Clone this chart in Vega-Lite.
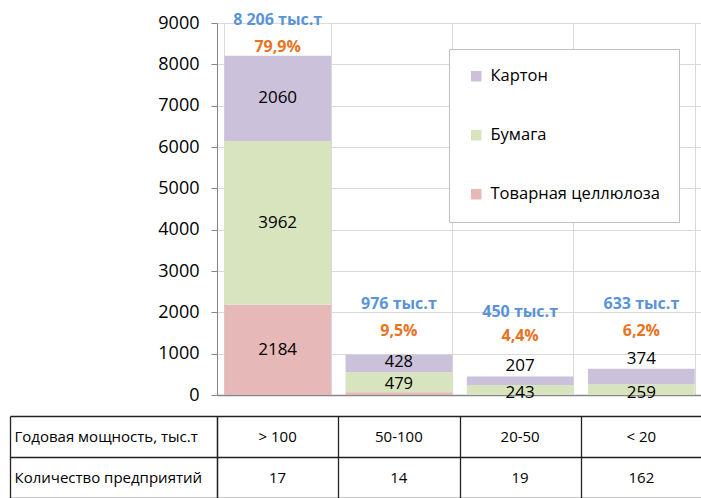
{
  "$schema": "https://vega.github.io/schema/vega-lite/v6.json",
  "padding": {"left": 9, "top": 11, "right": 0, "bottom": 0},
  "spacing": 5,
  "config": {
    "font": "Open Sans",
    "view": {"stroke": null},
    "text": {"font": "Open Sans"}
  },
  "datasets": {
    "bars": [
      {"cap": "> 100", "type": "Товарная целлюлоза", "ord": 1, "value": 2184},
      {"cap": "> 100", "type": "Бумага", "ord": 2, "value": 3962},
      {"cap": "> 100", "type": "Картон", "ord": 3, "value": 2060},
      {"cap": "50-100", "type": "Товарная целлюлоза", "ord": 1, "value": 69},
      {"cap": "50-100", "type": "Бумага", "ord": 2, "value": 479},
      {"cap": "50-100", "type": "Картон", "ord": 3, "value": 428},
      {"cap": "20-50", "type": "Товарная целлюлоза", "ord": 1, "value": 0},
      {"cap": "20-50", "type": "Бумага", "ord": 2, "value": 243},
      {"cap": "20-50", "type": "Картон", "ord": 3, "value": 207},
      {"cap": "< 20", "type": "Товарная целлюлоза", "ord": 1, "value": 0},
      {"cap": "< 20", "type": "Бумага", "ord": 2, "value": 259},
      {"cap": "< 20", "type": "Картон", "ord": 3, "value": 374}
    ],
    "totals": [
      {"cap": "> 100", "total": 8206, "name": "8 206 тыс.т", "share": "79,9%"},
      {"cap": "50-100", "total": 976, "name": "976 тыс.т", "share": "9,5%"},
      {"cap": "20-50", "total": 450, "name": "450 тыс.т", "share": "4,4%"},
      {"cap": "< 20", "total": 633, "name": "633 тыс.т", "share": "6,2%"}
    ],
    "table": [
      {"row": "Годовая мощность, тыс.т", "cap": "> 100", "label": "> 100"},
      {"row": "Годовая мощность, тыс.т", "cap": "50-100", "label": "50-100"},
      {"row": "Годовая мощность, тыс.т", "cap": "20-50", "label": "20-50"},
      {"row": "Годовая мощность, тыс.т", "cap": "< 20", "label": "< 20"},
      {"row": "Количество предприятий", "cap": "> 100", "label": "17"},
      {"row": "Количество предприятий", "cap": "50-100", "label": "14"},
      {"row": "Количество предприятий", "cap": "20-50", "label": "19"},
      {"row": "Количество предприятий", "cap": "< 20", "label": "162"}
    ]
  },
  "vconcat": [
    {
      "width": 485,
      "height": 372,
      "layer": [
        {
          "data": {"name": "bars"},
          "transform": [
            {"stack": "value", "groupby": ["cap"], "sort": [{"field": "ord", "order": "ascending"}], "as": ["v0", "v1"]}
          ],
          "mark": {"type": "bar"},
          "encoding": {
            "x": {
              "field": "cap", "type": "nominal",
              "sort": ["> 100", "50-100", "20-50", "< 20"],
              "scale": {"paddingInner": 0.12, "paddingOuter": 0.06},
              "axis": {"title": null, "labels": false, "ticks": false, "domain": true, "domainColor": "#868686", "domainWidth": 1.5, "grid": true, "gridColor": "#d9d9d9", "tickBand": "extent"}
            },
            "y": {
              "field": "v0", "type": "quantitative",
              "scale": {"domain": [0, 9000], "nice": false},
              "axis": {"title": null, "format": "d", "values": [0, 1000, 2000, 3000, 4000, 5000, 6000, 7000, 8000, 9000], "grid": true, "gridColor": "#d9d9d9", "domain": true, "domainColor": "#868686", "tickColor": "#868686", "tickSize": 6, "labelPadding": 12, "labelFontSize": 18, "labelColor": "#000", "labelFont": "Open Sans"}
            },
            "y2": {"field": "v1"},
            "color": {
              "field": "type", "type": "nominal",
              "scale": {"domain": ["Картон", "Бумага", "Товарная целлюлоза"], "range": ["#ccc1da", "#d7e4bd", "#e6b9b8"]},
              "legend": {"title": null, "orient": "none", "legendX": 232, "legendY": 26, "padding": 19, "rowPadding": 42, "symbolType": "square", "symbolSize": 110, "symbolStrokeWidth": 0, "labelFontSize": 16.5, "labelFont": "Open Sans", "labelColor": "#000", "labelOffset": 6, "labelLimit": 0, "strokeColor": "#c0c0c0", "fillColor": "#ffffff"}
            }
          }
        },
        {
          "data": {"name": "bars"},
          "transform": [
            {"stack": "value", "groupby": ["cap"], "sort": [{"field": "ord", "order": "ascending"}], "as": ["v0", "v1"]},
            {"calculate": "(datum.v0 + datum.v1) / 2", "as": "mid"},
            {"filter": "datum.value > 100 && datum.cap == '> 100'"}
          ],
          "mark": {"type": "text", "fontSize": 17, "color": "#000"},
          "encoding": {
            "x": {"field": "cap", "type": "nominal", "sort": ["> 100", "50-100", "20-50", "< 20"]},
            "y": {"field": "mid", "type": "quantitative"},
            "text": {"field": "value", "type": "quantitative"}
          }
        },
        {
          "data": {"name": "bars"},
          "transform": [
            {"stack": "value", "groupby": ["cap"], "sort": [{"field": "ord", "order": "ascending"}], "as": ["v0", "v1"]},
            {"calculate": "(datum.v0 + datum.v1) / 2", "as": "mid"},
            {"filter": "datum.cap == '50-100' && datum.type == 'Картон'"}
          ],
          "mark": {"type": "text", "fontSize": 16.5, "color": "#000", "dy": -2},
          "encoding": {
            "x": {"field": "cap", "type": "nominal", "sort": ["> 100", "50-100", "20-50", "< 20"]},
            "y": {"field": "mid", "type": "quantitative"},
            "text": {"field": "value", "type": "quantitative"}
          }
        },
        {
          "data": {"name": "bars"},
          "transform": [
            {"stack": "value", "groupby": ["cap"], "sort": [{"field": "ord", "order": "ascending"}], "as": ["v0", "v1"]},
            {"calculate": "(datum.v0 + datum.v1) / 2", "as": "mid"},
            {"filter": "datum.cap == '50-100' && datum.type == 'Бумага'"}
          ],
          "mark": {"type": "text", "fontSize": 16.5, "color": "#000", "dy": 2},
          "encoding": {
            "x": {"field": "cap", "type": "nominal", "sort": ["> 100", "50-100", "20-50", "< 20"]},
            "y": {"field": "mid", "type": "quantitative"},
            "text": {"field": "value", "type": "quantitative"}
          }
        },
        {
          "data": {"name": "bars"},
          "transform": [
            {"stack": "value", "groupby": ["cap"], "sort": [{"field": "ord", "order": "ascending"}], "as": ["v0", "v1"]},
            {"filter": "datum.type == 'Картон' && (datum.cap == '20-50' || datum.cap == '< 20')"}
          ],
          "mark": {"type": "text", "fontSize": 17, "color": "#000", "dy": -10},
          "encoding": {
            "x": {"field": "cap", "type": "nominal", "sort": ["> 100", "50-100", "20-50", "< 20"]},
            "y": {"field": "v1", "type": "quantitative"},
            "text": {"field": "value", "type": "quantitative"}
          }
        },
        {
          "data": {"name": "bars"},
          "transform": [
            {"stack": "value", "groupby": ["cap"], "sort": [{"field": "ord", "order": "ascending"}], "as": ["v0", "v1"]},
            {"calculate": "(datum.v0 + datum.v1) / 2", "as": "mid"},
            {"filter": "datum.type == 'Бумага' && (datum.cap == '20-50' || datum.cap == '< 20')"}
          ],
          "mark": {"type": "text", "fontSize": 17, "color": "#000", "dy": 3},
          "encoding": {
            "x": {"field": "cap", "type": "nominal", "sort": ["> 100", "50-100", "20-50", "< 20"]},
            "y": {"field": "mid", "type": "quantitative"},
            "text": {"field": "value", "type": "quantitative"}
          }
        },
        {
          "data": {"name": "totals"},
          "transform": [{"filter": "datum.cap == '> 100'"}],
          "mark": {"type": "text", "fontSize": 16, "fontWeight": "bold", "color": "#5a93d8"},
          "encoding": {
            "x": {"field": "cap", "type": "nominal", "sort": ["> 100", "50-100", "20-50", "< 20"]},
            "y": {"datum": 9080},
            "text": {"field": "name"}
          }
        },
        {
          "data": {"name": "totals"},
          "transform": [{"filter": "datum.cap == '> 100'"}],
          "mark": {"type": "text", "fontSize": 16, "fontWeight": "bold", "color": "#e8731e"},
          "encoding": {
            "x": {"field": "cap", "type": "nominal", "sort": ["> 100", "50-100", "20-50", "< 20"]},
            "y": {"datum": 8430},
            "text": {"field": "share"}
          }
        },
        {
          "data": {"name": "totals"},
          "transform": [{"filter": "datum.cap == '50-100' || datum.cap == '< 20'"}],
          "mark": {"type": "text", "fontSize": 16, "fontWeight": "bold", "color": "#5a93d8"},
          "encoding": {
            "x": {"field": "cap", "type": "nominal", "sort": ["> 100", "50-100", "20-50", "< 20"]},
            "y": {"datum": 2200},
            "text": {"field": "name"}
          }
        },
        {
          "data": {"name": "totals"},
          "transform": [{"filter": "datum.cap == '50-100' || datum.cap == '< 20'"}],
          "mark": {"type": "text", "fontSize": 16, "fontWeight": "bold", "color": "#e8731e"},
          "encoding": {
            "x": {"field": "cap", "type": "nominal", "sort": ["> 100", "50-100", "20-50", "< 20"]},
            "y": {"datum": 1550},
            "text": {"field": "share"}
          }
        },
        {
          "data": {"name": "totals"},
          "transform": [{"filter": "datum.cap == '20-50'"}],
          "mark": {"type": "text", "fontSize": 16, "fontWeight": "bold", "color": "#5a93d8"},
          "encoding": {
            "x": {"field": "cap", "type": "nominal", "sort": ["> 100", "50-100", "20-50", "< 20"]},
            "y": {"datum": 2010},
            "text": {"field": "name"}
          }
        },
        {
          "data": {"name": "totals"},
          "transform": [{"filter": "datum.cap == '20-50'"}],
          "mark": {"type": "text", "fontSize": 16, "fontWeight": "bold", "color": "#e8731e"},
          "encoding": {
            "x": {"field": "cap", "type": "nominal", "sort": ["> 100", "50-100", "20-50", "< 20"]},
            "y": {"datum": 1430},
            "text": {"field": "share"}
          }
        }
      ]
    },
    {
      "width": 485,
      "height": 82,
      "data": {"name": "table"},
      "layer": [
        {
          "mark": {"type": "text", "fontSize": 15, "color": "#000"},
          "encoding": {
            "x": {
              "field": "cap", "type": "nominal",
              "sort": ["> 100", "50-100", "20-50", "< 20"],
              "scale": {"paddingInner": 0, "paddingOuter": 0},
              "axis": {"title": null, "labels": false, "ticks": false, "domain": false, "grid": true, "tickBand": "extent", "gridColor": "#222", "gridWidth": 1.3}
            },
            "y": {
              "field": "row", "type": "nominal",
              "sort": ["Годовая мощность, тыс.т", "Количество предприятий"],
              "scale": {"paddingInner": 0, "paddingOuter": 0},
              "axis": {"title": null, "orient": "left", "grid": true, "tickBand": "extent", "gridColor": "#222", "gridWidth": 1.3, "tickSize": 207, "tickColor": "#222", "tickWidth": 1.3, "labelAlign": "left", "labelPadding": -4, "labelFontSize": 15, "labelFont": "Open Sans", "labelColor": "#000", "labelLimit": 0, "domain": true, "domainColor": "#222", "domainWidth": 1.3}
            },
            "text": {"field": "label"}
          }
        },
        {
          "mark": {"type": "text"},
          "encoding": {
            "y": {
              "field": "row", "type": "nominal",
              "sort": ["Годовая мощность, тыс.т", "Количество предприятий"],
              "axis": {"title": null, "orient": "left", "offset": 207, "labels": false, "ticks": false, "grid": false, "domain": true, "domainColor": "#222", "domainWidth": 1.3}
            },
            "text": {"value": ""}
          }
        }
      ],
      "resolve": {"axis": {"y": "independent"}}
    }
  ]
}
